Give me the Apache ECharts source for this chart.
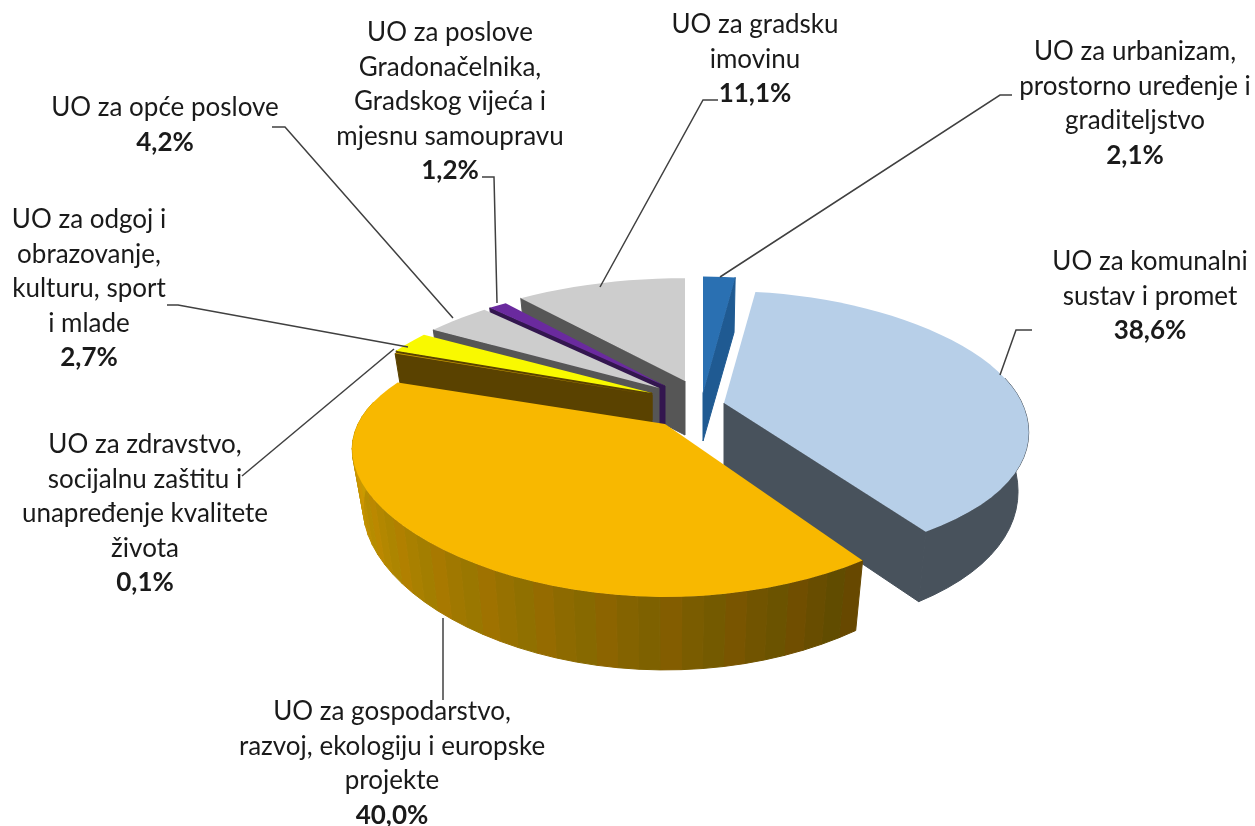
<!DOCTYPE html>
<html>
<head>
<meta charset="utf-8">
<title>UO</title>
<style>
  html, body { margin: 0; padding: 0; background: #fff; }
  #main { width: 1255px; height: 826px; }
</style>
<script src="https://cdn.jsdelivr.net/npm/echarts@6/dist/echarts.min.js"></script>
</head>
<body>
<div id="main"></div>
<script>
// values, clockwise from 12 o'clock
const categories = [
  "UO za urbanizam,\nprostorno uređenje i\ngraditeljstvo",
  "UO za komunalni\nsustav i promet",
  "UO za gospodarstvo,\nrazvoj, ekologiju i europske\nprojekte",
  "UO za zdravstvo,\nsocijalnu zaštitu i\nunapređenje kvalitete\nživota",
  "UO za odgoj i\nobrazovanje,\nkulturu, sport\ni mlade",
  "UO za opće poslove",
  "UO za poslove\nGradonačelnika,\nGradskog vijeća i\nmjesnu samoupravu",
  "UO za gradsku\nimovinu",
];
const values = [2.1, 38.6, 40.0, 0.1, 2.7, 4.2, 1.2, 11.1];

// styling of each slice
const topColors = ["#2a70b2", "#b7cfe8", "#f8b800", "#c99a00", "#f9f900", "#cdcdcd", "#6a2a9e", "#cdcdcd"];
const wallColors = ["#1f5a92", "#48525c", "#5a4200", "#5a4200", "#5a4200", "#565656", "#33164f", "#565656"];
const apexes = [[703, 393], [724, 403], [665, 424], [652, 395], [652, 393], [659, 388], [665, 386], [685, 381]];
const apexDrop = [48, 68, 55, 27, 27, 55, 55, 54];
const radiusX = [305, 298, 307, 295, 295, 292, 293, 302];
const radiusY = [146, 131.6, 129, 129, 129, 129, 129, 129];
const tilt = [0.254, 0.176, 0.254, 0.254, 0.254, 0.254, 0.254, 0.254];
const frontWiden = [0, 0.087, 0, 0, 0, 0, 0, 0];
const paintOrder = [0, 7, 6, 5, 4, 3, 1, 2];

// label placement: centre x, y of first line, leader line
const labelAnchors = [
  [1135, 52, [[1012, 95], [1000, 95], [720, 277]]],
  [1150, 262, [[1032, 330], [1016, 330], [1000, 375]]],
  [392, 712, [[443, 618], [443, 700]]],
  [145, 445, [[394, 349], [242, 476]]],
  [89, 220, [[167, 305], [178, 305], [408, 347]]],
  [165, 108, [[272, 127], [285, 127], [453, 318]]],
  [450, 33, [[482, 177], [494, 177], [497, 303]]],
  [755, 25, [[718, 100], [703, 100], [600, 287]]],
];

const FONT = "Lato, 'Open Sans', sans-serif";
const LINE_H = 34.5;
const total = values.reduce((a, b) => a + b, 0);

function toAngle(v) {
  return (v / total) * Math.PI * 2;
}

function rimPoint(i, a) {
  const apex = apexes[i];
  const X = Math.sin(a);
  const Y = -Math.cos(a);
  const front = Math.max(Y, 0);
  const dx = X * radiusX[i] * (1 + 0.2 * Y + frontWiden[i] * front * front);
  const dy = (Y * radiusY[i]) / (1 - tilt[i] * Y);
  const depth = 55 + 18 * front;
  return {
    Y: Y,
    top: [apex[0] + dx, apex[1] + dy],
    bottom: [apex[0] + dx * 0.965, apex[1] + dy + depth],
  };
}

function mix(c1, c2, t) {
  return c1.map((v, i) => v + (c2[i] - v) * t);
}

// shade of the gold outer wall, faint bands like the original
function goldWall(a, facet) {
  const t = Math.min(1, Math.max(0, (a - 2.6) / 2.35));
  const c = mix([98, 73, 0], [221, 167, 0], t);
  const band = facet % 3 === 0 ? 5 : facet % 3 === 1 ? -3 : 0;
  return "rgb(" + Math.round(c[0] + band) + "," + Math.round(c[1] - band * 0.3) + ",0)";
}

function poly(points, fill, z2, strokeIt) {
  return {
    type: "polygon",
    shape: { points: points },
    style: { fill: fill, stroke: strokeIt ? fill : null, lineWidth: strokeIt ? 1 : 0 },
    z2: z2,
    silent: true,
  };
}

function renderSlice(params) {
  const i = params.dataIndex;
  const before = values.slice(0, i).reduce((a, b) => a + b, 0);
  const a0 = toAngle(before);
  const a1 = toAngle(before + values[i]);
  const apex = apexes[i];
  const rank = paintOrder.indexOf(i) * 10;
  const apexBottom = [apex[0], apex[1] + apexDrop[i]];
  const n = Math.max(2, Math.ceil((a1 - a0) / 0.06));
  const rim = [];
  for (let k = 0; k <= n; k++) {
    const a = a0 + ((a1 - a0) * k) / n;
    rim.push(Object.assign({ a: a }, rimPoint(i, a)));
  }
  const children = [];
  const first = rim[0];
  const last = rim[n];
  // only the faces turned towards the viewer, the others would fringe the top
  if (a0 > Math.PI) {
    children.push(poly([apex, first.top, first.bottom, apexBottom], wallColors[i], rank, true));
  }
  if (a1 < Math.PI) {
    children.push(poly([apex, last.top, last.bottom, apexBottom], wallColors[i], rank, true));
  }
  const facing = rim.filter((p) => p.Y > -0.2);
  if (i === 2) {
    for (let k = 0; k < facing.length - 1; k++) {
      const p = facing[k];
      const q = facing[k + 1];
      children.push(poly([p.top, q.top, q.bottom, p.bottom], goldWall((p.a + q.a) / 2, k), rank + 1, true));
    }
  } else if (facing.length > 1) {
    const wall = facing.map((p) => p.top).concat(facing.map((p) => p.bottom).reverse());
    children.push(poly(wall, wallColors[i], rank + 1, true));
  }
  children.push(poly([apex].concat(rim.map((p) => p.top)), topColors[i], rank + 2));
  return { type: "group", children: children };
}

function renderLabel(params) {
  const i = params.dataIndex;
  const anchor = labelAnchors[i];
  const lines = categories[i].split("\n").length;
  const pct = values[i].toFixed(1).replace(".", ",") + "%";
  return {
    type: "group",
    children: [
      {
        type: "polyline",
        shape: { points: anchor[2] },
        style: { stroke: "#404040", lineWidth: 1.5, fill: null },
        z2: 200,
        silent: true,
      },
      {
        type: "text",
        x: anchor[0],
        y: anchor[1] - LINE_H / 2,
        z2: 201,
        style: {
          text: categories[i],
          font: "26px " + FONT,
          fill: "#1a1a1a",
          align: "center",
          verticalAlign: "top",
          lineHeight: LINE_H,
        },
      },
      {
        type: "text",
        x: anchor[0],
        y: anchor[1] - LINE_H / 2 + lines * LINE_H,
        z2: 201,
        style: {
          text: pct,
          font: "bold 26px " + FONT,
          fill: "#1a1a1a",
          align: "center",
          verticalAlign: "top",
          lineHeight: LINE_H,
        },
      },
    ],
  };
}

const chart = echarts.init(document.getElementById("main"));
chart.setOption({
  animation: false,
  backgroundColor: "#fff",
  series: [
    { type: "custom", coordinateSystem: "none", data: values, renderItem: renderSlice, silent: true },
    { type: "custom", coordinateSystem: "none", data: values, renderItem: renderLabel, silent: true },
  ],
});
</script>
</body>
</html>
